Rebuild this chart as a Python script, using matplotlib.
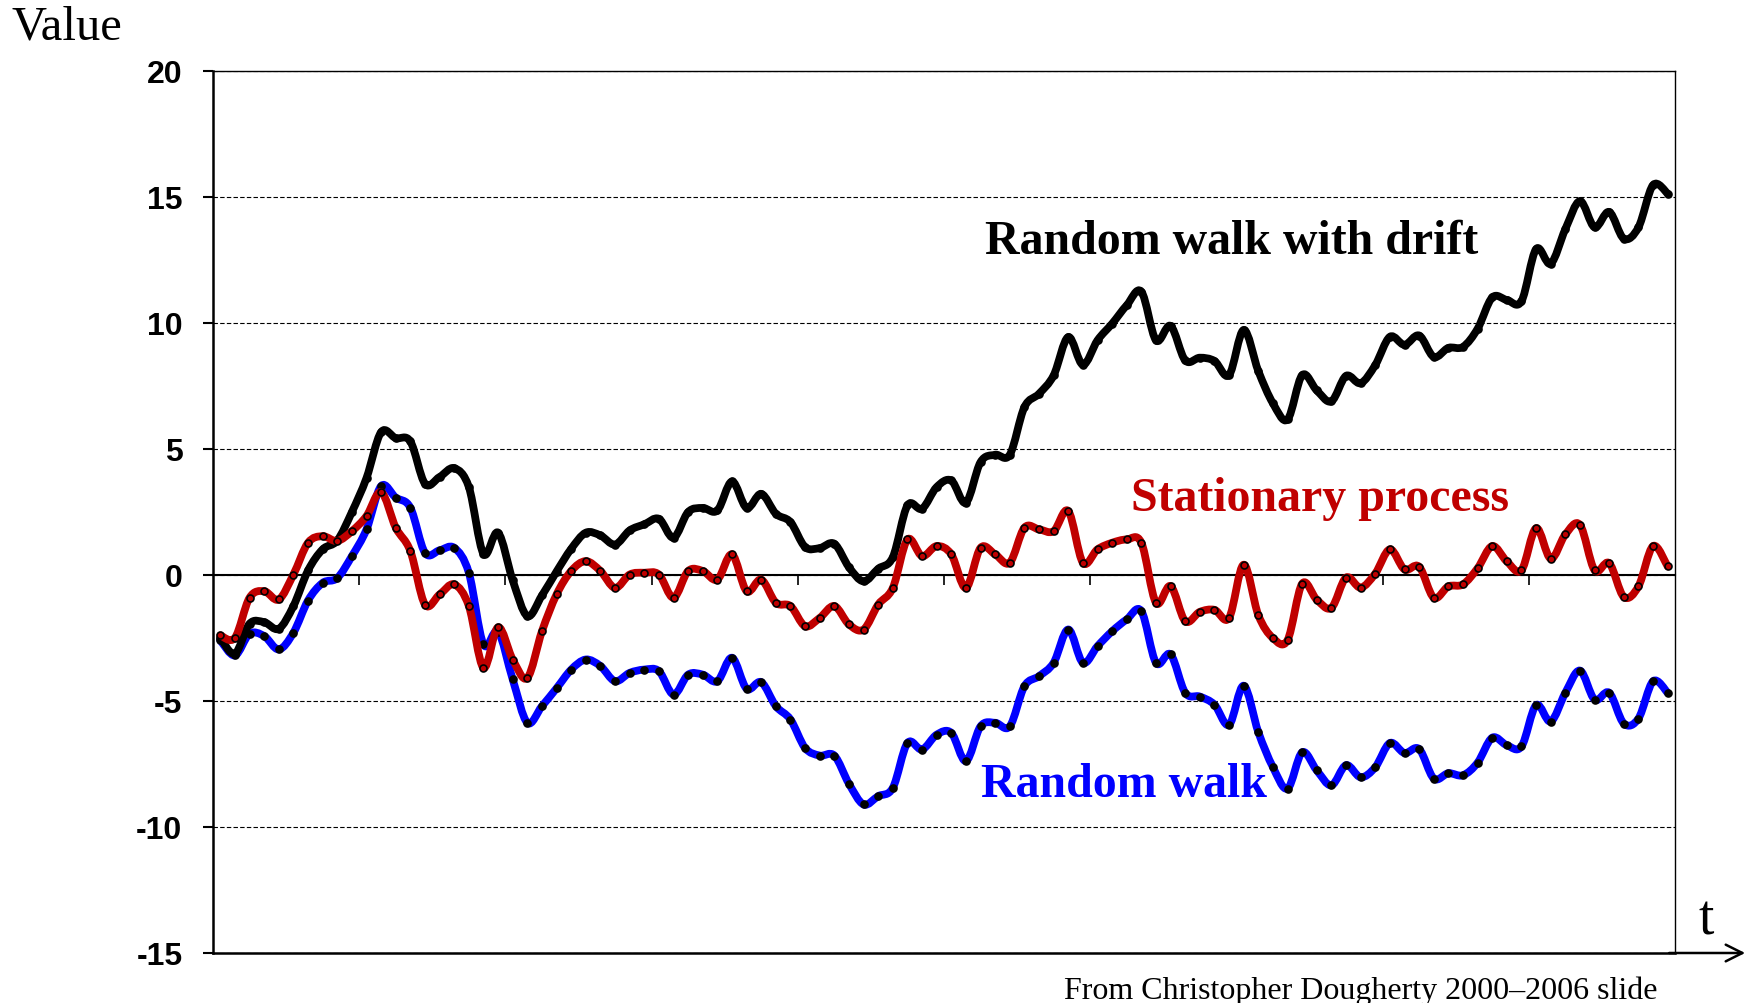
import numpy as np
import matplotlib
matplotlib.use("Agg")
from matplotlib import pyplot as plt
from matplotlib.path import Path
from matplotlib.patches import PathPatch


# values, t = 1..100
random_walk = [
    -2.6, -3.20, -2.34, -2.43, -2.96, -2.30, -1.02, -0.32, -0.13, 0.74,
    1.80, 3.52, 3.06, 2.66, 0.87, 0.97, 1.07, 0.08, -2.76, -2.25,
    -4.15, -5.87, -5.21, -4.50, -3.76, -3.36, -3.62, -4.22, -3.89, -3.76,
    -3.82, -4.75, -3.96, -3.96, -4.22, -3.29, -4.52, -4.26, -5.21, -5.74,
    -6.87, -7.17, -7.17, -8.29, -9.11, -8.78, -8.45, -6.67, -6.93, -6.34,
    -6.27, -7.39, -6.01, -5.87, -6.01, -4.42, -4.02, -3.49, -2.17, -3.49,
    -2.83, -2.24, -1.77, -1.44, -3.49, -3.16, -4.68, -4.83, -5.15, -5.95,
    -4.40, -6.24, -7.63, -8.48, -7.04, -7.76, -8.35, -7.55, -8.03, -7.63,
    -6.67, -7.07, -6.91, -8.08, -7.87, -7.95, -7.45, -6.46, -6.76, -6.81,
    -5.17, -5.82, -4.68, -3.80, -4.95, -4.68, -5.90, -5.70, -4.22, -4.68,
]

walk_with_drift = [
    -2.5, -3.13, -1.94, -1.88, -2.14, -1.24, 0.17, 1.01, 1.36, 2.49,
    3.84, 5.66, 5.42, 5.29, 3.61, 3.88, 4.23, 3.48, 0.83, 1.67,
    -0.22, -1.64, -0.82, 0.13, 1.03, 1.67, 1.56, 1.20, 1.76, 2.00,
    2.22, 1.47, 2.49, 2.65, 2.55, 3.70, 2.65, 3.21, 2.42, 2.09,
    1.10, 1.06, 1.23, 0.30, -0.26, 0.24, 0.70, 2.75, 2.62, 3.48,
    3.74, 2.86, 4.47, 4.76, 4.76, 6.65, 7.18, 7.91, 9.43, 8.33,
    9.30, 9.96, 10.69, 11.23, 9.30, 9.87, 8.50, 8.61, 8.48, 7.92,
    9.71, 8.08, 6.80, 6.16, 7.92, 7.31, 6.88, 7.89, 7.60, 8.32,
    9.44, 9.12, 9.49, 8.64, 9.00, 9.04, 9.76, 11.00, 10.90, 10.85,
    12.92, 12.34, 13.71, 14.82, 13.78, 14.39, 13.33, 13.78, 15.46, 15.12,
]

stationary = [
    -2.4, -2.50, -0.91, -0.65, -0.98, 0.01, 1.27, 1.53, 1.34, 1.73,
    2.33, 3.28, 1.87, 0.94, -1.18, -0.78, -0.38, -1.24, -3.69, -2.08,
    -3.36, -4.09, -2.24, -0.78, 0.15, 0.54, 0.15, -0.52, 0.01, 0.08,
    0.01, -0.91, 0.15, 0.15, -0.19, 0.81, -0.65, -0.19, -1.11, -1.24,
    -2.04, -1.71, -1.24, -1.97, -2.17, -1.18, -0.52, 1.40, 0.74, 1.14,
    0.81, -0.52, 1.07, 0.81, 0.48, 1.87, 1.80, 1.73, 2.53, 0.48,
    1.01, 1.27, 1.40, 1.27, -1.11, -0.45, -1.84, -1.47, -1.39, -1.71,
    0.40, -1.60, -2.51, -2.59, -0.35, -0.99, -1.31, -0.11, -0.51, 0.05,
    1.01, 0.21, 0.32, -0.91, -0.46, -0.38, 0.26, 1.14, 0.53, 0.18,
    1.85, 0.64, 1.60, 1.98, 0.18, 0.46, -0.88, -0.46, 1.14, 0.33,
]

y_ticks = [-15, -10, -5, 0, 5, 10, 15, 20]

RED = "#c00000"
BLUE = "#0000ff"


def smooth_path(x, y):
    # excel style smoothed line: cubic bezier through every point
    pts = np.column_stack([x, y])
    n = len(pts)
    verts = [pts[0]]
    codes = [Path.MOVETO]
    for i in range(n - 1):
        p0 = pts[max(i - 1, 0)]
        p1 = pts[i]
        p2 = pts[i + 1]
        p3 = pts[min(i + 2, n - 1)]
        verts += [p1 + (p2 - p0) / 6, p2 - (p3 - p1) / 6, p2]
        codes += [Path.CURVE4] * 3
    return Path(verts, codes)


def draw_series(ax, y, color, face, edge, z):
    x = np.arange(len(y))
    ax.add_patch(PathPatch(smooth_path(x, np.array(y)), fill=False,
                           edgecolor=color, lw=5.6, capstyle="round",
                           joinstyle="round", zorder=z))
    ax.plot(x, y, ls="none", marker="o", ms=5, mfc=face, mec=edge,
            mew=1.2, zorder=z + 0.5)


def main():
    fig = plt.figure(figsize=(17.52, 10.04), dpi=100)
    ax = fig.add_axes([213 / 1752, 50 / 1004, 1462 / 1752, 882.5 / 1004])

    ax.set_xlim(-0.5, len(random_walk) - 0.5)
    ax.set_ylim(-15, 20)

    draw_series(ax, random_walk, BLUE, "black", "black", 3)
    draw_series(ax, walk_with_drift, "black", "black", "black", 4)
    draw_series(ax, stationary, RED, RED, "black", 5)

    ax.set_xticks([])
    ax.set_yticks(y_ticks)
    ax.set_yticklabels([str(v) for v in y_ticks], fontfamily="Liberation Sans",
                       fontweight="bold", fontsize=23)
    ax.tick_params(axis="y", direction="out", length=7, width=1.5, pad=15)
    ax.yaxis.grid(True, ls=(0, (4, 2)), color="black", lw=0.8)
    ax.set_axisbelow(True)
    for side in ["left", "bottom"]:
        ax.spines[side].set_linewidth(1.8)
    for side in ["top", "right"]:
        ax.spines[side].set_linewidth(1.0)

    # time axis drawn through zero
    zero = (0 - y_ticks[0]) / (y_ticks[-1] - y_ticks[0])
    sec = ax.secondary_xaxis(zero)
    sec.set_xticks(np.arange(9.5, len(random_walk) - 1, 10))
    sec.set_xticklabels([])
    sec.tick_params(direction="out", length=7, width=1.2)
    sec.spines["bottom"].set_linewidth(1.5)

    ax.annotate("", xy=(1.048, 0), xytext=(0.996, 0), xycoords="axes fraction",
                arrowprops=dict(arrowstyle="->", lw=1.8, color="black",
                                mutation_scale=30, shrinkA=0, shrinkB=0),
                annotation_clip=False)
    ax.text(1.021, 0.022, "t", transform=ax.transAxes, fontfamily="Liberation Serif",
            fontsize=40, ha="center", va="baseline")

    fig.text(11 / 1752, 1 - 27 / 1004, "Value", fontfamily="Liberation Serif",
             fontsize=35, va="center", ha="left")

    lab = dict(fontfamily="Liberation Serif", fontweight="bold", fontsize=34.5,
               transform=ax.transAxes, ha="left", va="center")
    ax.text(0.528, 0.807, "Random walk with drift", color="black", **lab)
    ax.text(0.628, 0.516, "Stationary process", color=RED, **lab)
    ax.text(0.525, 0.191, "Random walk", color=BLUE, **lab)

    fig.text(1658 / 1752, 1 - 991 / 1004, "From Christopher Dougherty 2000\u20132006 slide",
             fontfamily="Liberation Serif", fontsize=23, ha="right", va="center")

    fig.savefig("out.png", dpi=100)


if __name__ == '__main__':
    main()
